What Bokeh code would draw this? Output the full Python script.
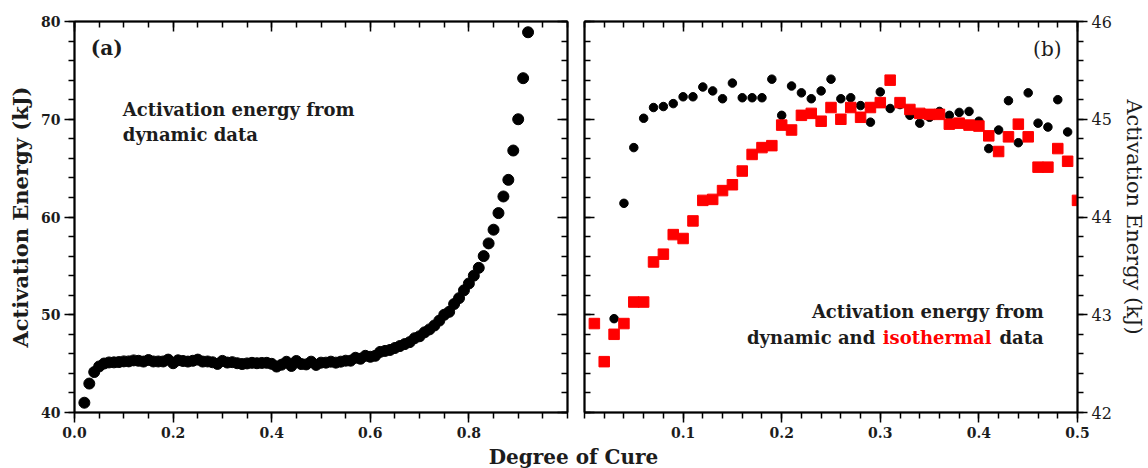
from bokeh.plotting import figure
from bokeh.models import Range1d, FixedTicker, PrintfTickFormatter, LinearAxis, Label
from bokeh.layouts import column, row
from bokeh.embed import file_html
from bokeh.resources import INLINE

SERIF = "DejaVu Serif"
INK = "#1c1c1c"
RED = "#ff0000"

# ---- data -------------------------------------------------------------
# degree of cure for the dynamic (non-isothermal) analysis
dyn_cure = [0.02, 0.03, 0.04, 0.05, 0.06, 0.07, 0.08, 0.09, 0.10, 0.11,
            0.12, 0.13, 0.14, 0.15, 0.16, 0.17, 0.18, 0.19, 0.20, 0.21,
            0.22, 0.23, 0.24, 0.25, 0.26, 0.27, 0.28, 0.29, 0.30, 0.31,
            0.32, 0.33, 0.34, 0.35, 0.36, 0.37, 0.38, 0.39, 0.40, 0.41,
            0.42, 0.43, 0.44, 0.45, 0.46, 0.47, 0.48, 0.49, 0.50, 0.51,
            0.52, 0.53, 0.54, 0.55, 0.56, 0.57, 0.58, 0.59, 0.60, 0.61,
            0.62, 0.63, 0.64, 0.65, 0.66, 0.67, 0.68, 0.69, 0.70, 0.71,
            0.72, 0.73, 0.74, 0.75, 0.76, 0.77, 0.78, 0.79, 0.80, 0.81,
            0.82, 0.83, 0.84, 0.85, 0.86, 0.87, 0.88, 0.89, 0.90, 0.91,
            0.92]
# activation energy (kJ) from dynamic data
dyn_energy = [41.00, 42.96, 44.14, 44.71, 45.01, 45.12, 45.13, 45.16, 45.23, 45.23,
              45.33, 45.29, 45.21, 45.37, 45.22, 45.22, 45.22, 45.41, 45.04, 45.34,
              45.27, 45.21, 45.29, 45.41, 45.21, 45.22, 45.14, 44.97, 45.28, 45.11,
              45.15, 45.04, 44.96, 45.02, 45.08, 45.04, 45.07, 45.08, 44.98, 44.70,
              44.89, 45.19, 44.76, 45.27, 44.96, 44.92, 45.20, 44.87, 45.10, 45.10,
              45.20, 45.10, 45.20, 45.30, 45.30, 45.60, 45.50, 45.80, 45.70, 45.80,
              46.20, 46.30, 46.40, 46.60, 46.80, 47.00, 47.20, 47.60, 47.80, 48.20,
              48.50, 48.90, 49.40, 50.00, 50.30, 51.10, 51.70, 52.50, 53.20, 54.00,
              54.80, 56.00, 57.30, 58.70, 60.40, 62.10, 63.80, 66.80, 70.00, 74.20,
              78.90]

# degree of cure for the isothermal analysis
iso_cure = [0.01, 0.02, 0.03, 0.04, 0.05, 0.06, 0.07, 0.08, 0.09, 0.10,
            0.11, 0.12, 0.13, 0.14, 0.15, 0.16, 0.17, 0.18, 0.19, 0.20,
            0.21, 0.22, 0.23, 0.24, 0.25, 0.26, 0.27, 0.28, 0.29, 0.30,
            0.31, 0.32, 0.33, 0.34, 0.35, 0.36, 0.37, 0.38, 0.39, 0.40,
            0.41, 0.42, 0.43, 0.44, 0.45, 0.46, 0.47, 0.48, 0.49, 0.50]
# activation energy (kJ) from isothermal data
iso_energy = [42.91, 42.52, 42.80, 42.91, 43.13, 43.13, 43.54, 43.62, 43.82, 43.78,
              43.96, 44.17, 44.18, 44.27, 44.33, 44.47, 44.64, 44.71, 44.73, 44.94,
              44.89, 45.04, 45.06, 44.98, 45.12, 45.00, 45.12, 45.02, 45.12, 45.17,
              45.40, 45.17, 45.10, 45.06, 45.05, 45.05, 44.95, 44.96, 44.94, 44.93,
              44.83, 44.67, 44.82, 44.95, 44.82, 44.51, 44.51, 44.70, 44.57, 44.17]

# tick positions
a_xticks = [0.0, 0.2, 0.4, 0.6, 0.8]
a_xminor = [i * 0.05 for i in range(21)]
a_yticks = [40, 50, 60, 70, 80]
a_yminor = list(range(40, 81, 2))
b_xticks = [0.1, 0.2, 0.3, 0.4, 0.5]
b_xminor = [i * 0.02 for i in range(26)]
b_yticks = [42, 43, 44, 45, 46]
b_yminor = [42 + i * 0.2 for i in range(21)]

N_B_DYN = 48  # dynamic points up to a cure of 0.49 in panel (b)


def style_axis(ax, ticks, minor, fmt, outside, labels=True, bold=True, size="14px"):
    ax.ticker = FixedTicker(ticks=ticks, minor_ticks=minor)
    ax.formatter = PrintfTickFormatter(format=fmt)
    ax.axis_line_color = "black"
    ax.axis_line_width = 2
    ax.major_tick_line_color = "black"
    ax.minor_tick_line_color = "black"
    ax.major_tick_line_width = 1.5
    ax.minor_tick_line_width = 1.5
    if outside:
        ax.major_tick_out, ax.major_tick_in = 10, 0
        ax.minor_tick_out, ax.minor_tick_in = 6, 0
    else:
        ax.major_tick_out, ax.major_tick_in = 0, 10
        ax.minor_tick_out, ax.minor_tick_in = 0, 6
    if labels:
        ax.major_label_text_font = SERIF
        ax.major_label_text_font_size = size
        ax.major_label_text_font_style = "bold" if bold else "normal"
        ax.major_label_text_color = INK
        ax.major_label_standoff = 4
    else:
        # mirrored frame axis: ticks only
        ax.major_label_text_font_size = "1px"
        ax.major_label_text_color = None
        ax.major_label_standoff = 0


def base_fig(width, xr, yr, left, right):
    p = figure(width=width, height=445, x_range=xr, y_range=yr,
               output_backend="svg", toolbar_location=None,
               x_axis_location=None, y_axis_location=None,
               min_border_left=left, min_border_right=right,
               min_border_top=21, min_border_bottom=33)
    p.xgrid.visible = False
    p.ygrid.visible = False
    p.outline_line_color = "black"
    p.outline_line_width = 1.5
    p.background_fill_color = "white"
    p.border_fill_color = "white"
    return p


def note(x, y, text, size="18px", style="bold", color=INK, align="left",
         baseline="alphabetic"):
    return Label(x=x, y=y, text=text, text_font=SERIF, text_font_size=size,
                 text_font_style=style, text_color=color, text_align=align,
                 text_baseline=baseline)


# ---- panel (a): dynamic data over the whole cure range -----------------
pa = base_fig(576, Range1d(0, 1), Range1d(40, 80), 74, 9)

ax_b = LinearAxis()
style_axis(ax_b, a_xticks, a_xminor, "%.1f", outside=True)
pa.add_layout(ax_b, "below")
ax_t = LinearAxis()
style_axis(ax_t, a_xticks, a_xminor, "%.1f", outside=False, labels=False)
pa.add_layout(ax_t, "above")
ax_l = LinearAxis(axis_label="Activation Energy (kJ)")
style_axis(ax_l, a_yticks, a_yminor, "%d", outside=True)
ax_l.axis_label_text_font = SERIF
ax_l.axis_label_text_font_size = "21px"
ax_l.axis_label_text_font_style = "bold"
ax_l.axis_label_text_color = INK
ax_l.axis_label_standoff = 5
pa.add_layout(ax_l, "left")
ax_r = LinearAxis()
style_axis(ax_r, a_yticks, a_yminor, "%d", outside=False, labels=False)
pa.add_layout(ax_r, "right")

pa.scatter(dyn_cure, dyn_energy, marker="circle", size=11,
           fill_color="black", line_color="black")

pa.add_layout(note(0.033, 77.3, "(a)", size="20px", baseline="middle"))
pa.add_layout(note(0.098, 71.0, "Activation energy from"))
pa.add_layout(note(0.098, 68.45, "dynamic data"))

# ---- panel (b): dynamic vs isothermal at low cure ----------------------
pb = base_fig(572, Range1d(0, 0.5), Range1d(42, 46), 8, 69)

bx_b = LinearAxis()
style_axis(bx_b, b_xticks, b_xminor, "%.1f", outside=True)
pb.add_layout(bx_b, "below")
bx_t = LinearAxis()
style_axis(bx_t, b_xticks, b_xminor, "%.1f", outside=False, labels=False)
pb.add_layout(bx_t, "above")
by_l = LinearAxis()
style_axis(by_l, b_yticks, b_yminor, "%d", outside=False, labels=False)
pb.add_layout(by_l, "left")
by_r = LinearAxis(axis_label="Activation Energy (kJ)")
style_axis(by_r, b_yticks, b_yminor, "%d", outside=True, bold=False, size="16px")
by_r.axis_label_text_font = SERIF
by_r.axis_label_text_font_size = "21px"
by_r.axis_label_text_font_style = "normal"
by_r.axis_label_text_color = INK
by_r.axis_label_standoff = 7
pb.add_layout(by_r, "right")

pb.scatter(dyn_cure[:N_B_DYN], dyn_energy[:N_B_DYN], marker="circle", size=8.5,
           fill_color="black", line_color="black")
pb.scatter(iso_cure, iso_energy, marker="square", size=10.5,
           fill_color=RED, line_color=RED)

pb.add_layout(note(0.4838, 45.72, "(b)", size="20px", style="normal",
                   align="right", baseline="middle"))
pb.add_layout(note(0.4657, 43.03, "Activation energy from", align="right"))
pb.add_layout(note(0.2949, 42.77, "dynamic and", align="right"))
pb.add_layout(note(0.3576, 42.77, "isothermal", color=RED, align="center"))
pb.add_layout(note(0.4657, 42.77, "data", align="right"))

# ---- shared x-axis title -------------------------------------------------
px = figure(width=1148, height=23, x_range=Range1d(0, 1148), y_range=Range1d(0, 23),
            output_backend="svg", toolbar_location=None,
            x_axis_location=None, y_axis_location=None, min_border=0)
px.xgrid.visible = False
px.ygrid.visible = False
px.outline_line_color = None
px.add_layout(note(573, 12, "Degree of Cure", size="20px", align="center",
                   baseline="middle"))

layout = column(row(pa, pb, spacing=0), px, spacing=0)

with open("out.html", "w") as f:
    f.write(file_html(layout, INLINE))
